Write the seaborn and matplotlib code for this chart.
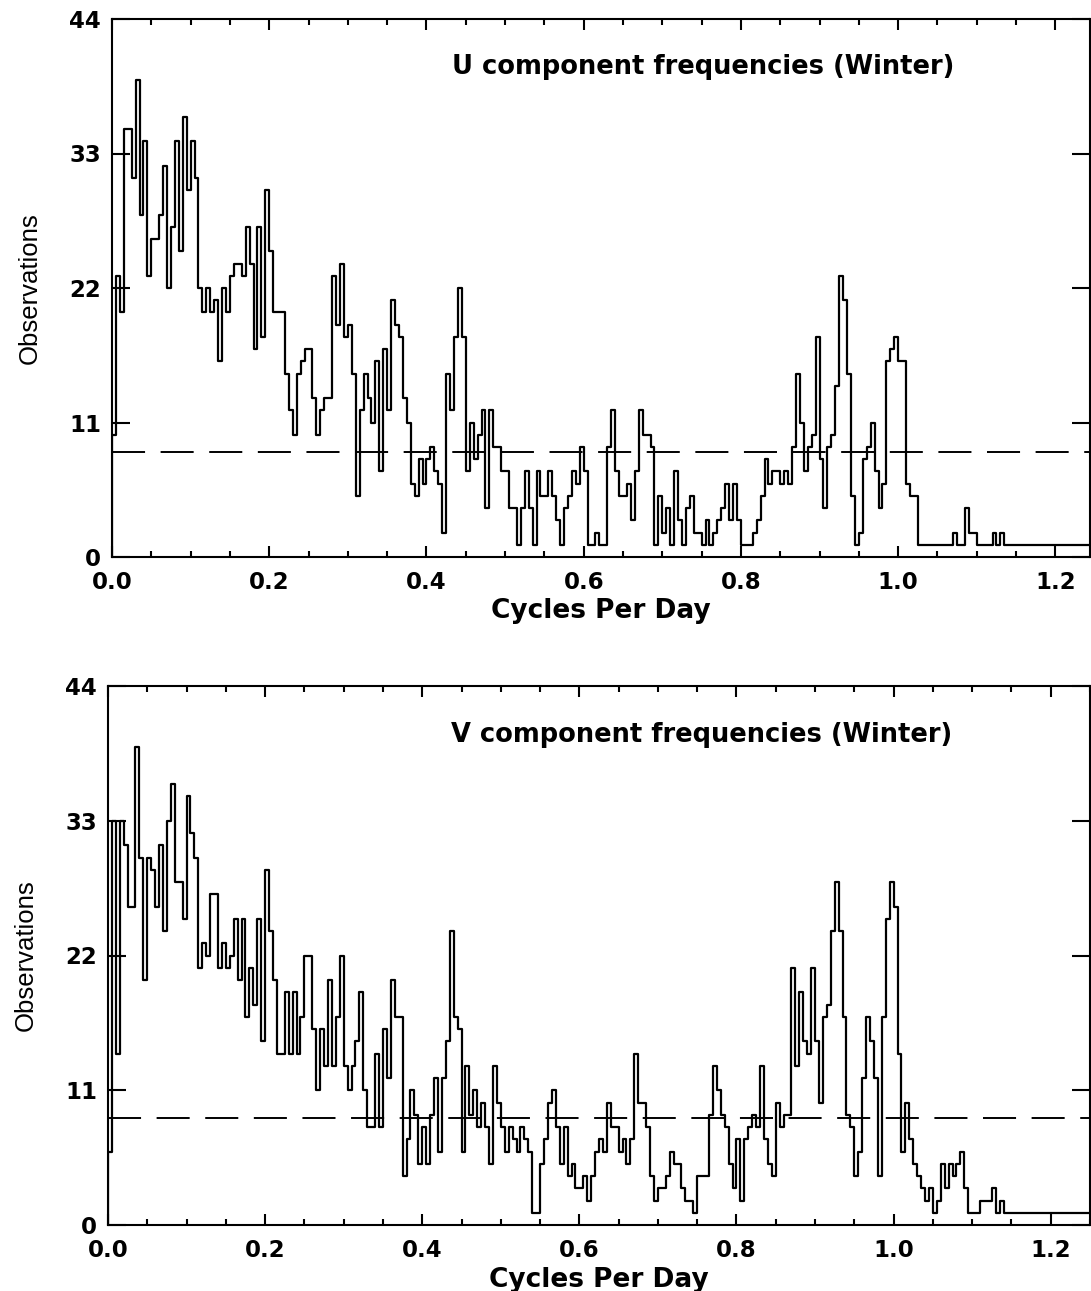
import numpy as np
import pandas as pd
import matplotlib
matplotlib.use("Agg")
import matplotlib.pyplot as plt
import seaborn as sns
from matplotlib.ticker import FixedLocator, MultipleLocator

sns.set_style("ticks")
plt.rcParams['font.family'] = ['DejaVu Sans']
plt.rcParams['text.color'] = 'black'
plt.rcParams['axes.labelcolor'] = 'black'
plt.rcParams['xtick.color'] = 'black'
plt.rcParams['ytick.color'] = 'black'

# ---------------- data ----------------
bin_width = 0.005  # cycles per day per histogram bin

u_counts = [
    10, 23, 20, 35, 35, 31, 39, 28, 34, 23,
    26, 26, 28, 32, 22, 27, 34, 25, 36, 30,
    34, 31, 22, 20, 22, 20, 21, 16, 22, 20,
    23, 24, 24, 23, 27, 24, 17, 27, 18, 30,
    25, 20, 20, 20, 15, 12, 10, 15, 16, 17,
    17, 13, 10, 12, 13, 13, 23, 19, 24, 18,
    19, 15, 5, 12, 15, 13, 11, 16, 7, 17,
    12, 21, 19, 18, 13, 11, 6, 5, 8, 6,
    8, 9, 7, 6, 2, 15, 12, 18, 22, 18,
    7, 11, 8, 10, 12, 4, 12, 9, 9, 7,
    7, 4, 4, 1, 4, 7, 4, 1, 7, 5,
    5, 7, 5, 3, 1, 4, 5, 7, 6, 9,
    7, 1, 1, 2, 1, 1, 9, 12, 7, 5,
    5, 6, 3, 7, 12, 10, 10, 9, 1, 5,
    2, 4, 1, 7, 3, 1, 4, 5, 2, 2,
    1, 3, 1, 2, 3, 4, 6, 3, 6, 3,
    1, 1, 1, 2, 3, 5, 8, 6, 7, 7,
    6, 7, 6, 9, 15, 11, 7, 9, 10, 18,
    8, 4, 9, 10, 14, 23, 21, 15, 5, 1,
    2, 8, 9, 11, 7, 4, 6, 16, 17, 18,
    16, 16, 6, 5, 5, 1, 1, 1, 1, 1,
    1, 1, 1, 1, 2, 1, 1, 4, 2, 2,
    1, 1, 1, 1, 2, 1, 2, 1, 1, 1,
    1, 1, 1, 1, 1, 1, 1, 1, 1, 1,
    1, 1, 1, 1, 1, 1, 1, 1, 1, 1,
]

v_counts = [
    6, 33, 14, 33, 31, 26, 26, 39, 30, 20,
    30, 29, 26, 31, 24, 33, 36, 28, 28, 25,
    35, 32, 30, 21, 23, 22, 27, 27, 21, 23,
    21, 22, 25, 20, 25, 17, 21, 18, 25, 15,
    29, 24, 20, 14, 14, 19, 14, 19, 14, 17,
    22, 22, 16, 11, 16, 13, 20, 13, 17, 22,
    13, 11, 13, 15, 19, 11, 8, 8, 14, 8,
    16, 12, 20, 17, 17, 4, 7, 11, 9, 5,
    8, 5, 9, 12, 6, 12, 15, 24, 17, 16,
    6, 13, 9, 11, 8, 10, 8, 5, 13, 10,
    8, 6, 8, 7, 6, 8, 7, 6, 1, 1,
    5, 7, 10, 11, 8, 5, 8, 4, 5, 3,
    3, 4, 2, 4, 6, 7, 6, 10, 8, 8,
    6, 7, 5, 7, 14, 10, 10, 8, 4, 2,
    3, 3, 4, 6, 5, 5, 3, 2, 2, 1,
    4, 4, 4, 9, 13, 11, 9, 8, 5, 3,
    7, 2, 7, 8, 9, 8, 13, 7, 5, 4,
    10, 8, 9, 9, 21, 13, 19, 15, 14, 21,
    15, 10, 17, 18, 24, 28, 24, 17, 9, 8,
    4, 6, 12, 17, 15, 12, 4, 17, 25, 28,
    26, 14, 6, 10, 7, 5, 4, 3, 2, 3,
    1, 2, 5, 3, 5, 4, 5, 6, 3, 1,
    1, 1, 2, 2, 2, 3, 1, 2, 1, 1,
    1, 1, 1, 1, 1, 1, 1, 1, 1, 1,
    1, 1, 1, 1, 1, 1, 1, 1, 1, 1,
]

u_mean = 8.6
v_mean = 8.7

y_ticks = [0, 11, 22, 33, 44]
x_ticks = [0.0, 0.2, 0.4, 0.6, 0.8, 1.0, 1.2]
x_tick_labels = ["0.0", "0.2", "0.4", "0.6", "0.8", "1.0", "1.2"]
titles = ["U component frequencies (Winter)", "V component frequencies (Winter)"]
x_label = "Cycles Per Day"
y_label = "Observations"

# ---------------- figure ----------------
W, H = 1091, 1291
fig = plt.figure(figsize=(W / 100, H / 100), dpi=100)
ax_u = fig.add_axes([112 / W, 1 - 557 / H, 978 / W, 538 / H])
ax_v = fig.add_axes([108 / W, 1 - 1225 / H, 982 / W, 539 / H])


def step_frame(counts):
    edges = np.arange(len(counts) + 1) * bin_width
    xs = [0.0] + list(edges)
    ys = [0] + list(counts) + [counts[-1]]
    return pd.DataFrame({"freq": xs, "obs": ys})


def draw_panel(ax, counts, mean, title, xmax):
    df = step_frame(counts)
    sns.lineplot(data=df, x="freq", y="obs", ax=ax, color="black",
                 linewidth=1.6, drawstyle="steps-post", estimator=None,
                 sort=False, legend=False)
    ax.axhline(mean, color="black", linewidth=1.4, dashes=(17, 8))
    ax.set_xlim(0, xmax)
    ax.set_ylim(0, 44)

    ax.xaxis.set_major_locator(FixedLocator(x_ticks))
    ax.xaxis.set_minor_locator(MultipleLocator(0.05))
    ax.yaxis.set_major_locator(FixedLocator(y_ticks))
    ax.set_xticklabels(x_tick_labels, fontsize=16.5, fontweight="bold")
    ax.set_yticklabels([str(t) for t in y_ticks], fontsize=16.5, fontweight="bold")

    ax.tick_params(axis="x", which="major", direction="in", length=8, width=1.5,
                   top=True, bottom=True, pad=10, colors="black")
    ax.tick_params(axis="x", which="minor", direction="in", length=4, width=1.5,
                   top=True, bottom=True)
    ax.tick_params(axis="y", which="major", direction="in", length=13, width=1.5,
                   left=True, right=True, pad=8, colors="black")
    ax.tick_params(axis="y", which="minor", left=False, right=False)

    for sp in ax.spines.values():
        sp.set_visible(True)
        sp.set_color("black")
        sp.set_linewidth(1.5)

    ax.set_xlabel(x_label, fontsize=19, fontweight="bold", color="black")
    ax.xaxis.set_label_coords(0.5, -0.077)
    ax.set_ylabel(y_label, fontsize=18.5, fontweight="normal", color="black",
                  family=["Liberation Sans"])
    ax.yaxis.set_label_coords(-0.072, 0.5)

    ax.text(0.604, 0.91, title, transform=ax.transAxes, ha="center", va="center",
            fontsize=18.5, fontweight="bold", color="black")
    ax.grid(False)


draw_panel(ax_u, u_counts, u_mean, titles[0], 1.244)
draw_panel(ax_v, v_counts, v_mean, titles[1], 1.25)

fig.savefig("out.png", dpi=100)
